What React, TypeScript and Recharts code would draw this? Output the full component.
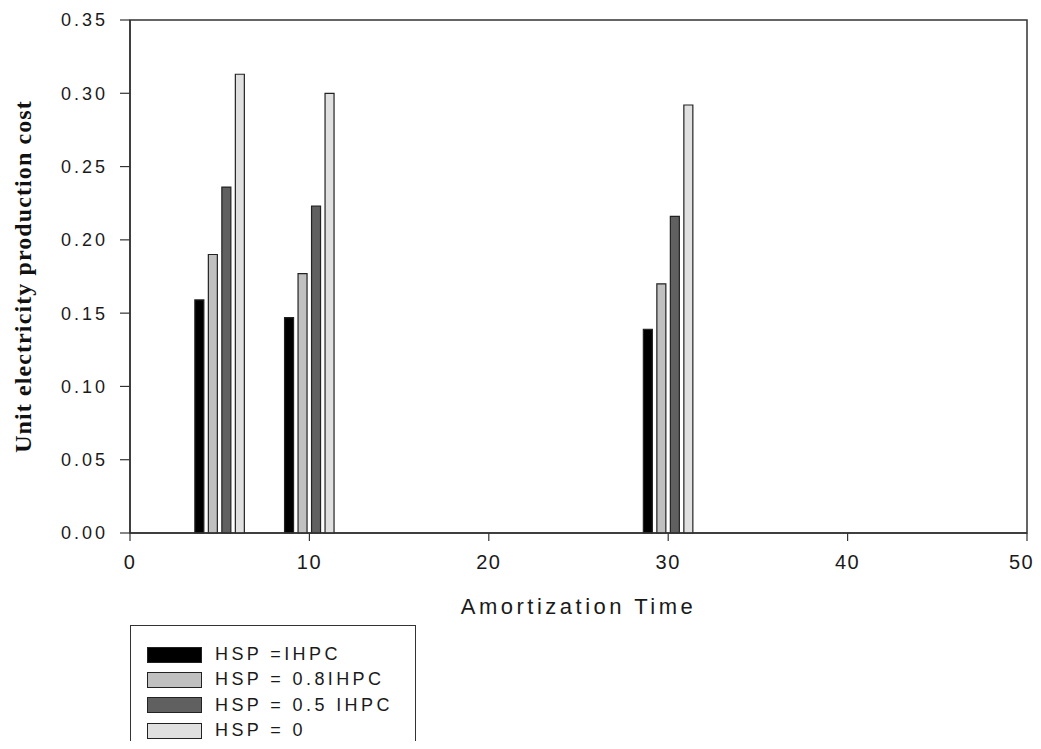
import { BarChart, Bar, XAxis, YAxis, ReferenceArea } from 'recharts';

const times = [5, 10, 30];
const hspFull = [0.159, 0.147, 0.139];
const hsp08 = [0.19, 0.177, 0.17];
const hsp05 = [0.236, 0.223, 0.216];
const hsp0 = [0.313, 0.3, 0.292];

const xTicks = [0, 10, 20, 30, 40, 50];
const yTicks = [0, 0.05, 0.1, 0.15, 0.2, 0.25, 0.3, 0.35];

const series = [
  { key: 'full', name: 'HSP =IHPC', fill: '#000000' },
  { key: 'p08', name: 'HSP = 0.8IHPC', fill: '#c0c0c0' },
  { key: 'p05', name: 'HSP = 0.5 IHPC', fill: '#606060' },
  { key: 'zero', name: 'HSP = 0', fill: '#e0e0e0' },
];

const data = times.map((t, i) => ({
  t,
  full: hspFull[i],
  p08: hsp08[i],
  p05: hsp05[i],
  zero: hsp0[i],
}));

const sans = '"Liberation Sans", Arial, sans-serif';
const ink = '#1a1a1a';

export default function App() {
  return (
    <div style={{ position: 'relative', width: 1025, height: 741, marginBottom: -8, overflow: 'hidden' }}>
      <BarChart
        width={1025}
        height={733}
        data={data}
        margin={{ top: 12, right: 6, left: 0, bottom: 118 }}
        barSize={9}
        barGap={4.5}
      >
        <XAxis
          dataKey="t"
          type="number"
          domain={[0, 50]}
          ticks={xTicks}
          height={90}
          tickSize={8}
          tickMargin={14}
          stroke="#333"
          axisLine={{ stroke: '#333', strokeWidth: 1.5 }}
          tickLine={{ stroke: '#333', strokeWidth: 1.2 }}
          tick={{ fill: ink, fontSize: 20, fontFamily: sans, letterSpacing: 1.5 }}
          label={(props: any) => {
            const vb = props.viewBox;
            return (
              <text
                x={vb.x + vb.width / 2}
                y={vb.y + 81}
                textAnchor="middle"
                fill={ink}
                fontSize={22}
                fontFamily={sans}
                letterSpacing={3.5}
              >
                Amortization Time
              </text>
            );
          }}
        />
        <YAxis
          type="number"
          domain={[0, 0.35]}
          ticks={yTicks}
          width={122}
          tickSize={10}
          tickMargin={12}
          stroke="#333"
          axisLine={{ stroke: '#333', strokeWidth: 1.5 }}
          tickLine={{ stroke: '#333', strokeWidth: 1.2 }}
          tickFormatter={(v: number) => v.toFixed(2)}
          tick={{ fill: ink, fontSize: 18, fontFamily: sans, letterSpacing: 3 }}
          label={(props: any) => {
            const vb = props.viewBox;
            const cy = vb.y + vb.height / 2;
            return (
              <text
                x={15}
                y={cy}
                transform={`rotate(-90 15 ${cy})`}
                textAnchor="middle"
                dominantBaseline="central"
                fill="#111"
                fontSize={24}
                fontWeight="bold"
                fontFamily='"Liberation Serif", "Times New Roman", serif'
                letterSpacing={1.1}
              >
                Unit electricity production cost
              </text>
            );
          }}
        />
        <ReferenceArea x1={0} x2={50} y1={0} y2={0.35} fill="none" stroke="#333" strokeWidth={1.5} ifOverflow="visible" />
        {series.map((s) => (
          <Bar
            key={s.key}
            dataKey={s.key}
            name={s.name}
            fill={s.fill}
            stroke="#222"
            strokeWidth={1.2}
            isAnimationActive={false}
          />
        ))}
      </BarChart>
      <div
        style={{
          position: 'absolute',
          left: 122,
          top: 617,
          width: 286,
          height: 160,
          border: '1.5px solid #333',
          background: '#fff',
          paddingTop: 16,
          boxSizing: 'border-box',
        }}
      >
        {series.map((s) => (
          <div key={s.key} style={{ display: 'flex', alignItems: 'center', height: 25.3 }}>
            <div
              style={{
                marginLeft: 16,
                width: 53,
                height: 14,
                background: s.fill,
                border: '1.5px solid #222',
              }}
            />
            <span
              style={{
                marginLeft: 13,
                fontFamily: sans,
                fontSize: 18,
                letterSpacing: 3.4,
                color: ink,
                whiteSpace: 'pre',
              }}
            >
              {s.name}
            </span>
          </div>
        ))}
      </div>
    </div>
  );
}
